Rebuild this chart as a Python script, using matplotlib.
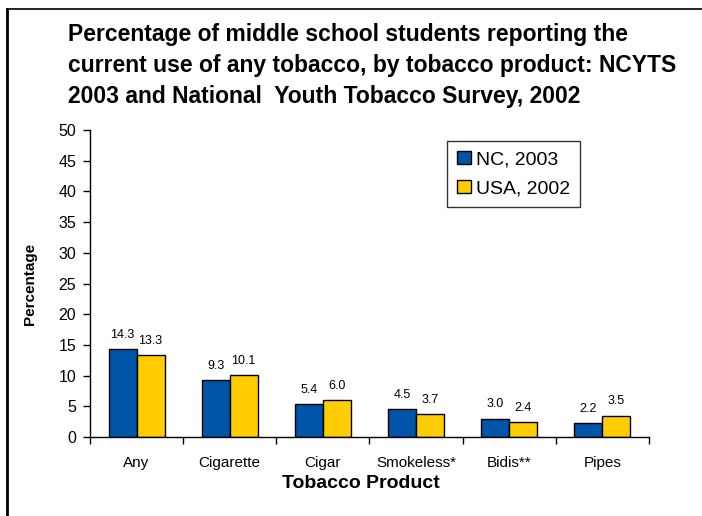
import matplotlib
matplotlib.use("Agg")
import matplotlib.pyplot as plt
import numpy as np
from matplotlib.lines import Line2D

categories = ["Any", "Cigarette", "Cigar", "Smokeless*", "Bidis**", "Pipes"]
nc_2003 = [14.3, 9.3, 5.4, 4.5, 3.0, 2.2]
usa_2002 = [13.3, 10.1, 6.0, 3.7, 2.4, 3.5]
series_names = ["NC, 2003", "USA, 2002"]
yticks = [0, 5, 10, 15, 20, 25, 30, 35, 40, 45, 50]
title_lines = ["Percentage of middle school students reporting the",
               "current use of any tobacco, by tobacco product: NCYTS",
               "2003 and National  Youth Tobacco Survey, 2002"]

plt.rcParams['font.family'] = ['Liberation Sans', 'DejaVu Sans']

W, H = 702, 516
fig = plt.figure(figsize=(W/100, H/100), dpi=100)
ax = fig.add_axes([90/W, 1-437/H, (649-90)/W, (437-130)/H])

x = np.arange(len(categories))
w = 0.3
blue = "#0055A8"
yellow = "#FFCC00"
b1 = ax.bar(x - w/2, nc_2003, w, color=blue, edgecolor="black", linewidth=1.0, label=series_names[0])
b2 = ax.bar(x + w/2, usa_2002, w, color=yellow, edgecolor="black", linewidth=1.0, label=series_names[1])

for bars, vals in ((b1, nc_2003), (b2, usa_2002)):
    for r, v in zip(bars, vals):
        ax.annotate(f"{v:.1f}", (r.get_x() + r.get_width()/2, v), xytext=(0, 6),
                    textcoords="offset points", ha="center", va="bottom", fontsize=9)

ax.set_xlim(-0.5, len(categories) - 0.5)
ax.set_ylim(0, 50)
ax.set_yticks(yticks)
ax.set_yticklabels([str(t) for t in yticks], fontsize=11.5)
ax.set_xticks(x)
ax.set_xticklabels(categories, fontsize=11)
ax.tick_params(axis='x', which='major', length=0, pad=14)
ax.set_xticks(np.arange(-0.5, len(categories)), minor=True)
ax.tick_params(axis='x', which='minor', length=5, direction='out', width=1)
ax.tick_params(axis='y', length=5, direction='out', width=1, pad=5)

for s in ['top', 'right']:
    ax.spines[s].set_visible(False)
for s in ['left', 'bottom']:
    ax.spines[s].set_linewidth(1.0)

ax.set_ylabel("Percentage", fontsize=11, fontweight='bold', va='center')
ax.yaxis.set_label_coords(-60/559, 0.5)
ax.set_xlabel("Tobacco Product", fontsize=14, fontweight='bold', va='center')
ax.xaxis.set_label_coords(0.485, -(483-437)/307)

leg = ax.legend(loc='upper left', bbox_to_anchor=((447-90)/559, 1-(141-130)/307),
                fontsize=14, frameon=True, fancybox=False, edgecolor='black',
                handlelength=0.72, handleheight=0.68, handletextpad=0.26,
                borderpad=0.5, labelspacing=0.6, borderaxespad=0)
leg.get_frame().set_linewidth(1.0)

for i, line in enumerate(title_lines):
    fig.text(68/W, 1-(41 + 31*i)/H, line, ha='left', va='baseline', fontsize=16.5,
             fontweight='bold')

# outer frame lines (left and top)
fig.add_artist(Line2D([6.5/W, 6.5/W], [0, 1-9/H], color='black', linewidth=2, transform=fig.transFigure))
fig.add_artist(Line2D([6.5/W, 1], [1-9/H, 1-9/H], color='black', linewidth=1.2, transform=fig.transFigure))

fig.savefig("out.png", dpi=100)
